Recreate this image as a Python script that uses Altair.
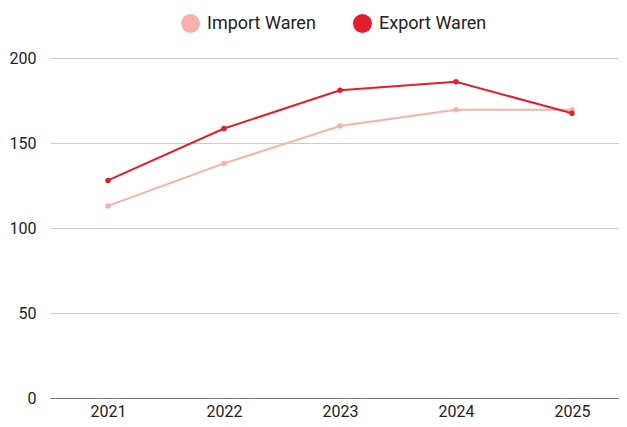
import altair as alt
import pandas as pd

years = [2021, 2022, 2023, 2024, 2025]
import_waren = [113, 138, 160, 169.5, 169.5]
export_waren = [128, 158.5, 181, 186, 167.5]
series = ["Import Waren", "Export Waren"]
colors = ["#f7b1a8", "#e31e2a"]

rows = []
for y, v in zip(years, import_waren):
    rows.append({"Jahr": y, "Serie": series[0], "Wert": v})
for y, v in zip(years, export_waren):
    rows.append({"Jahr": y, "Serie": series[1], "Wert": v})
df = pd.DataFrame(rows)

font = "Roboto"

base = alt.Chart(df).encode(
    x=alt.X("Jahr:Q", title=None,
            scale=alt.Scale(domain=[2020.5, 2025.405], nice=False, zero=False),
            axis=alt.Axis(values=years, format="d", labelAngle=0, ticks=False,
                          domainColor="#777777", labelFontSize=16,
                          labelColor="#222222", labelPadding=5,
                          labelFont=font, grid=False)),
    y=alt.Y("Wert:Q", title=None, scale=alt.Scale(domain=[0, 200]),
            axis=alt.Axis(values=[0, 50, 100, 150, 200], ticks=False, domain=False,
                          gridColor="#cccccc", labelFontSize=16, labelColor="#222222",
                          labelPadding=14, labelFont=font)),
    color=alt.Color("Serie:N", sort=series,
                    scale=alt.Scale(domain=series, range=colors),
                    legend=alt.Legend(title=None, orient="none", direction="horizontal",
                                      legendX=131, legendY=-44,
                                      symbolType="circle",
                                      symbolSize=361, symbolOpacity=1,
                                      symbolStrokeWidth=0,
                                      labelFontSize=18, labelFont=font,
                                      labelColor="#222222", columnPadding=37,
                                      labelOffset=7)),
)

lines = base.mark_line(strokeWidth=2)
points = base.mark_circle(size=30, opacity=1)

chart = (lines + points).properties(
    width=569, height=340,
    autosize=alt.AutoSizeParams(type="none"),
    padding={"left": 42, "top": 50, "right": 0, "bottom": 21},
).configure(font=font).configure_view(stroke=None)

chart.save("out.html", embed_options={"renderer": "svg", "actions": False})
